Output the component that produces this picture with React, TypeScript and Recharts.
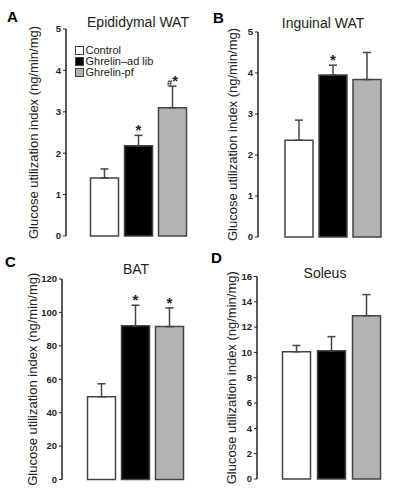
import React from "react";
import { BarChart, Bar, XAxis, YAxis, ErrorBar, Cell, LabelList, Legend } from "recharts";

const GROUPS = ["Control", "Ghrelin\u2013ad lib", "Ghrelin-pf"];
const FILLS = ["#ffffff", "#000000", "#b3b3b3"];

// A: epididymal WAT
const EPI_MEAN = [1.4, 2.18, 3.1];
const EPI_SEM = [0.22, 0.25, 0.52];
const EPI_SIG = ["", "*", "#*"];
const EPI_TICKS = [0, 1, 2, 3, 4, 5];

// B: inguinal WAT
const ING_MEAN = [2.36, 3.95, 3.84];
const ING_SEM = [0.49, 0.24, 0.66];
const ING_SIG = ["", "*", ""];
const ING_TICKS = [0, 1, 2, 3, 4, 5];

// C: BAT
const BAT_MEAN = [49.5, 92, 91.5];
const BAT_SEM = [7.8, 12.3, 11.2];
const BAT_SIG = ["", "*", "*"];
const BAT_TICKS = [0, 20, 40, 60, 80, 100, 120];

// D: soleus
const SOL_MEAN = [10.05, 10.13, 12.9];
const SOL_SEM = [0.5, 1.12, 1.67];
const SOL_SIG = ["", "", ""];
const SOL_TICKS = [0, 2, 4, 6, 8, 10, 12, 14, 16];

const Y_LABEL = "Glucose utilization index (ng/min/mg)";
const INK = "#222";
const EDGE = "#444";

const PANELS = [
  { letter: "A", title: "Epididymal WAT", mean: EPI_MEAN, sem: EPI_SEM, sig: EPI_SIG, ticks: EPI_TICKS,
    box: [0, 0], plot: [66, 205, 29, 236], pad: [21.5, 15.5], labelX: 33, letterAt: [7, 22], titleAt: [138, 27], legend: true },
  { letter: "B", title: "Inguinal WAT", mean: ING_MEAN, sem: ING_SEM, sig: ING_SIG, ticks: ING_TICKS,
    box: [200, 0], plot: [258, 393, 32, 237], pad: [24, 9], labelX: 232, letterAt: [213, 23], titleAt: [323, 28] },
  { letter: "C", title: "BAT", mean: BAT_MEAN, sem: BAT_SEM, sig: BAT_SIG, ticks: BAT_TICKS,
    box: [0, 245], plot: [62, 205, 279, 479.5], pad: [22.5, 18.5], labelX: 32, letterAt: [5, 266.5], titleAt: [136, 274] },
  { letter: "D", title: "Soleus", mean: SOL_MEAN, sem: SOL_SEM, sig: SOL_SIG, ticks: SOL_TICKS,
    box: [200, 245], plot: [257, 393, 276.5, 479], pad: [21.5, 9.5], labelX: 231, letterAt: [211, 263], titleAt: [325, 278] },
];

function LegendBox() {
  return (
    <div style={{ fontSize: 11, color: INK, lineHeight: "11px" }}>
      {GROUPS.map((g, i) => (
        <div key={g} style={{ display: "flex", alignItems: "center", height: 11 }}>
          <span style={{ width: 7, height: 7, background: FILLS[i], border: `1px solid ${EDGE}`, marginRight: 1.5 }} />
          <span>{g}</span>
        </div>
      ))}
    </div>
  );
}

function Panel({ p }: { p: any }) {
  const table = GROUPS.map((g, i) => ({ group: g, mean: p.mean[i], err: [0, p.sem[i]], sig: p.sig[i] }));
  const [bx, by] = p.box;
  const [x0, x1, y0, y1] = p.plot;
  const width = x1 - bx + 6;
  const height = y1 - by + 6;
  const top = p.ticks[p.ticks.length - 1];

  const renderSig = (props: any) => {
    const vb = props.viewBox ?? props;
    const { x, y, width: w, height: h } = vb;
    const row = table[props.index];
    if (!row || !row.sig) return null;
    const perUnit = h / row.mean;
    const yTop = y - row.err[1] * perUnit;
    const cx = x + w / 2;
    const hash = row.sig.includes("#");
    return (
      <text x={cx} y={yTop} textAnchor="middle" fill={INK} fontWeight="bold">
        {hash && <tspan fontSize={9.5}>#</tspan>}
        <tspan fontSize={15}>*</tspan>
      </text>
    );
  };

  return (
    <div style={{ position: "absolute", left: bx, top: by }}>
      <BarChart width={width} height={height} data={table} margin={{ left: 0, top: y0 - by, right: 6, bottom: 6 }} barSize={28}>
        <XAxis
          dataKey="group"
          tick={false}
          tickLine={false}
          height={0}
          axisLine={{ stroke: INK, strokeWidth: 1.5 }}
          padding={{ left: p.pad[0], right: p.pad[1] }}
        />
        <YAxis
          width={x0 - bx}
          domain={[0, top]}
          ticks={p.ticks}
          interval={0}
          tickSize={3}
          tickMargin={2}
          tick={{ fontSize: 9.5, fontWeight: "bold", fill: INK }}
          tickLine={{ stroke: INK }}
          axisLine={{ stroke: INK, strokeWidth: 1.5 }}
          label={{
            value: Y_LABEL,
            angle: -90,
            position: "insideLeft",
            offset: p.labelX - bx,
            style: { textAnchor: "middle", fontSize: 13, fill: INK },
          }}
        />
        <Bar dataKey="mean" stroke={EDGE} strokeWidth={1.5} isAnimationActive={false}>
          {table.map((_, i) => (
            <Cell key={i} fill={FILLS[i]} />
          ))}
          <ErrorBar dataKey="err" width={4} stroke={EDGE} strokeWidth={1.5} isAnimationActive={false} />
          <LabelList dataKey="sig" content={renderSig} />
        </Bar>
        {p.legend && (
          <Legend
            layout="vertical"
            align="center"
            verticalAlign="middle"
            content={() => <LegendBox />}
            wrapperStyle={{ left: 75 - bx, top: 45 - by, width: 90, height: 34 }}
          />
        )}
      </BarChart>
    </div>
  );
}

export default function App() {
  return (
    <div
      style={{
        position: "absolute",
        left: 0,
        top: 0,
        width: 405,
        height: 496,
        background: "#fff",
        fontFamily: "'Liberation Sans', Arial, sans-serif",
      }}
    >
      {PANELS.map((p) => (
        <Panel key={p.letter} p={p} />
      ))}
      <svg width={405} height={496} style={{ position: "absolute", left: 0, top: 0, pointerEvents: "none" }}>
        {PANELS.map((p) => (
          <g key={p.letter}>
            <text x={p.letterAt[0]} y={p.letterAt[1]} fontSize={15} fontWeight="bold" fill="#000">
              {p.letter}
            </text>
            <text x={p.titleAt[0]} y={p.titleAt[1]} fontSize={14} textAnchor="middle" fill={INK}>
              {p.title}
            </text>
          </g>
        ))}
      </svg>
    </div>
  );
}
